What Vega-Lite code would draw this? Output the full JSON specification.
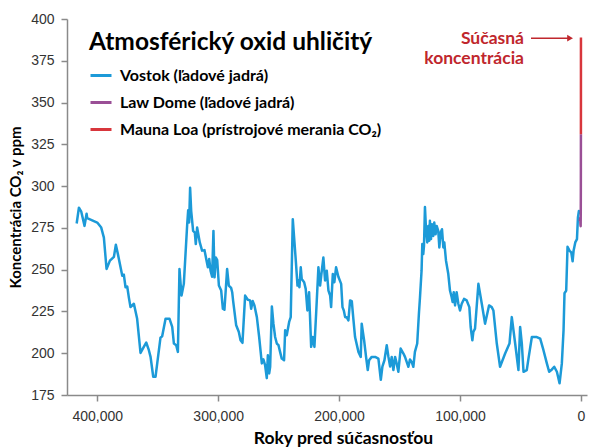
{
  "$schema": "https://vega.github.io/schema/vega-lite/v6.json",
  "width": 520,
  "height": 376,
  "autosize": {"type": "none"},
  "padding": {"left": 67, "top": 19, "right": 3, "bottom": 52},
  "background": "white",
  "config": {
    "view": {"stroke": null},
    "axis": {
      "grid": false,
      "domainColor": "#8a8a8a",
      "tickColor": "#8a8a8a",
      "domainWidth": 1.5,
      "tickWidth": 1.5,
      "labelFont": "Liberation Sans",
      "labelFontSize": 14,
      "labelColor": "#333333",
      "titleFont": "Lato",
      "titleFontWeight": "bold",
      "titleColor": "#000000"
    }
  },
  "datasets": {
    "co2": [
      {"years": 417000, "co2": 277.6, "series": "Vostok (ľadové jadrá)"},
      {"years": 415150, "co2": 287.1, "series": "Vostok (ľadové jadrá)"},
      {"years": 413200, "co2": 284.7, "series": "Vostok (ľadové jadrá)"},
      {"years": 410500, "co2": 276.2, "series": "Vostok (ľadové jadrá)"},
      {"years": 408800, "co2": 283.5, "series": "Vostok (ľadové jadrá)"},
      {"years": 408300, "co2": 280.8, "series": "Vostok (ľadové jadrá)"},
      {"years": 400000, "co2": 278.2, "series": "Vostok (ľadové jadrá)"},
      {"years": 396700, "co2": 275.2, "series": "Vostok (ľadové jadrá)"},
      {"years": 394500, "co2": 269.2, "series": "Vostok (ľadové jadrá)"},
      {"years": 392300, "co2": 250.4, "series": "Vostok (ľadové jadrá)"},
      {"years": 389500, "co2": 255.4, "series": "Vostok (ľadové jadrá)"},
      {"years": 386200, "co2": 257.7, "series": "Vostok (ľadové jadrá)"},
      {"years": 384600, "co2": 264.9, "series": "Vostok (ľadové jadrá)"},
      {"years": 382900, "co2": 259.3, "series": "Vostok (ľadové jadrá)"},
      {"years": 379300, "co2": 246.4, "series": "Vostok (ľadové jadrá)"},
      {"years": 378000, "co2": 247.0, "series": "Vostok (ľadové jadrá)"},
      {"years": 376600, "co2": 239.5, "series": "Vostok (ľadové jadrá)"},
      {"years": 375200, "co2": 239.9, "series": "Vostok (ľadové jadrá)"},
      {"years": 373800, "co2": 233.1, "series": "Vostok (ľadové jadrá)"},
      {"years": 372500, "co2": 227.6, "series": "Vostok (ľadové jadrá)"},
      {"years": 369700, "co2": 229.6, "series": "Vostok (ľadové jadrá)"},
      {"years": 367000, "co2": 220.6, "series": "Vostok (ľadové jadrá)"},
      {"years": 364200, "co2": 200.2, "series": "Vostok (ľadové jadrá)"},
      {"years": 361500, "co2": 203.8, "series": "Vostok (ľadové jadrá)"},
      {"years": 359500, "co2": 206.4, "series": "Vostok (ľadové jadrá)"},
      {"years": 357300, "co2": 201.8, "series": "Vostok (ľadové jadrá)"},
      {"years": 355900, "co2": 197.8, "series": "Vostok (ľadové jadrá)"},
      {"years": 353700, "co2": 185.9, "series": "Vostok (ľadové jadrá)"},
      {"years": 351800, "co2": 185.9, "series": "Vostok (ľadové jadrá)"},
      {"years": 347700, "co2": 209.3, "series": "Vostok (ľadové jadrá)"},
      {"years": 346300, "co2": 210.1, "series": "Vostok (ľadové jadrá)"},
      {"years": 343500, "co2": 220.6, "series": "Vostok (ľadové jadrá)"},
      {"years": 340200, "co2": 220.6, "series": "Vostok (ľadové jadrá)"},
      {"years": 338000, "co2": 215.7, "series": "Vostok (ľadové jadrá)"},
      {"years": 336600, "co2": 205.8, "series": "Vostok (ľadové jadrá)"},
      {"years": 334700, "co2": 204.8, "series": "Vostok (ľadové jadrá)"},
      {"years": 333300, "co2": 200.8, "series": "Vostok (ľadové jadrá)"},
      {"years": 332000, "co2": 250.4, "series": "Vostok (ľadové jadrá)"},
      {"years": 330300, "co2": 234.5, "series": "Vostok (ľadové jadrá)"},
      {"years": 328400, "co2": 241.5, "series": "Vostok (ľadové jadrá)"},
      {"years": 325600, "co2": 277.2, "series": "Vostok (ľadové jadrá)"},
      {"years": 324800, "co2": 285.5, "series": "Vostok (ľadové jadrá)"},
      {"years": 324000, "co2": 278.2, "series": "Vostok (ľadové jadrá)"},
      {"years": 323200, "co2": 299.0, "series": "Vostok (ľadové jadrá)"},
      {"years": 322300, "co2": 285.1, "series": "Vostok (ľadové jadrá)"},
      {"years": 320700, "co2": 273.2, "series": "Vostok (ľadové jadrá)"},
      {"years": 319300, "co2": 272.2, "series": "Vostok (ľadové jadrá)"},
      {"years": 318500, "co2": 265.3, "series": "Vostok (ľadové jadrá)"},
      {"years": 317400, "co2": 275.2, "series": "Vostok (ľadové jadrá)"},
      {"years": 315200, "co2": 266.3, "series": "Vostok (ľadové jadrá)"},
      {"years": 313300, "co2": 261.4, "series": "Vostok (ľadové jadrá)"},
      {"years": 311300, "co2": 261.7, "series": "Vostok (ľadové jadrá)"},
      {"years": 309600, "co2": 255.4, "series": "Vostok (ľadové jadrá)"},
      {"years": 308500, "co2": 251.4, "series": "Vostok (ľadové jadrá)"},
      {"years": 307400, "co2": 256.4, "series": "Vostok (ľadové jadrá)"},
      {"years": 306300, "co2": 249.4, "series": "Vostok (ľadové jadrá)"},
      {"years": 305000, "co2": 245.8, "series": "Vostok (ľadové jadrá)"},
      {"years": 303900, "co2": 273.2, "series": "Vostok (ľadové jadrá)"},
      {"years": 303000, "co2": 245.4, "series": "Vostok (ľadové jadrá)"},
      {"years": 301900, "co2": 257.3, "series": "Vostok (ľadové jadrá)"},
      {"years": 300800, "co2": 255.8, "series": "Vostok (ľadové jadrá)"},
      {"years": 299400, "co2": 240.5, "series": "Vostok (ľadové jadrá)"},
      {"years": 297500, "co2": 237.5, "series": "Vostok (ľadové jadrá)"},
      {"years": 296100, "co2": 226.6, "series": "Vostok (ľadové jadrá)"},
      {"years": 294800, "co2": 226.0, "series": "Vostok (ľadové jadrá)"},
      {"years": 292600, "co2": 250.4, "series": "Vostok (ľadové jadrá)"},
      {"years": 291200, "co2": 240.5, "series": "Vostok (ľadové jadrá)"},
      {"years": 289300, "co2": 239.1, "series": "Vostok (ľadové jadrá)"},
      {"years": 288400, "co2": 236.5, "series": "Vostok (ľadové jadrá)"},
      {"years": 287600, "co2": 231.2, "series": "Vostok (ľadové jadrá)"},
      {"years": 285100, "co2": 216.7, "series": "Vostok (ľadové jadrá)"},
      {"years": 282900, "co2": 212.7, "series": "Vostok (ľadové jadrá)"},
      {"years": 281500, "co2": 207.7, "series": "Vostok (ľadové jadrá)"},
      {"years": 279900, "co2": 206.2, "series": "Vostok (ľadové jadrá)"},
      {"years": 277700, "co2": 234.5, "series": "Vostok (ľadové jadrá)"},
      {"years": 275500, "co2": 232.0, "series": "Vostok (ľadové jadrá)"},
      {"years": 273600, "co2": 231.6, "series": "Vostok (ľadové jadrá)"},
      {"years": 272700, "co2": 226.6, "series": "Vostok (ľadové jadrá)"},
      {"years": 271400, "co2": 231.2, "series": "Vostok (ľadové jadrá)"},
      {"years": 270000, "co2": 228.6, "series": "Vostok (ľadové jadrá)"},
      {"years": 268000, "co2": 221.6, "series": "Vostok (ľadové jadrá)"},
      {"years": 266100, "co2": 209.7, "series": "Vostok (ľadové jadrá)"},
      {"years": 263900, "co2": 193.9, "series": "Vostok (ľadové jadrá)"},
      {"years": 262600, "co2": 196.3, "series": "Vostok (ľadové jadrá)"},
      {"years": 261200, "co2": 192.9, "series": "Vostok (ľadové jadrá)"},
      {"years": 259800, "co2": 185.1, "series": "Vostok (ľadové jadrá)"},
      {"years": 258900, "co2": 198.8, "series": "Vostok (ľadové jadrá)"},
      {"years": 257800, "co2": 187.9, "series": "Vostok (ľadové jadrá)"},
      {"years": 257000, "co2": 191.9, "series": "Vostok (ľadové jadrá)"},
      {"years": 255600, "co2": 228.0, "series": "Vostok (ľadové jadrá)"},
      {"years": 254300, "co2": 217.7, "series": "Vostok (ľadové jadrá)"},
      {"years": 252900, "co2": 209.7, "series": "Vostok (ľadové jadrá)"},
      {"years": 251500, "co2": 205.8, "series": "Vostok (ľadové jadrá)"},
      {"years": 250100, "co2": 204.8, "series": "Vostok (ľadové jadrá)"},
      {"years": 248800, "co2": 200.8, "series": "Vostok (ľadové jadrá)"},
      {"years": 247400, "co2": 196.8, "series": "Vostok (ľadové jadrá)"},
      {"years": 245500, "co2": 195.8, "series": "Vostok (ľadové jadrá)"},
      {"years": 244600, "co2": 213.7, "series": "Vostok (ľadové jadrá)"},
      {"years": 243300, "co2": 210.7, "series": "Vostok (ľadové jadrá)"},
      {"years": 241300, "co2": 218.7, "series": "Vostok (ľadové jadrá)"},
      {"years": 240000, "co2": 221.6, "series": "Vostok (ľadové jadrá)"},
      {"years": 238300, "co2": 280.2, "series": "Vostok (ľadové jadrá)"},
      {"years": 236900, "co2": 266.3, "series": "Vostok (ľadové jadrá)"},
      {"years": 235800, "co2": 255.4, "series": "Vostok (ľadové jadrá)"},
      {"years": 234400, "co2": 240.5, "series": "Vostok (ľadové jadrá)"},
      {"years": 233600, "co2": 243.5, "series": "Vostok (ľadové jadrá)"},
      {"years": 232800, "co2": 239.5, "series": "Vostok (ľadové jadrá)"},
      {"years": 231700, "co2": 251.4, "series": "Vostok (ľadové jadrá)"},
      {"years": 230900, "co2": 244.4, "series": "Vostok (ľadové jadrá)"},
      {"years": 228900, "co2": 242.5, "series": "Vostok (ľadové jadrá)"},
      {"years": 227600, "co2": 238.5, "series": "Vostok (ľadové jadrá)"},
      {"years": 226200, "co2": 225.6, "series": "Vostok (ľadové jadrá)"},
      {"years": 224800, "co2": 236.5, "series": "Vostok (ľadové jadrá)"},
      {"years": 223100, "co2": 203.8, "series": "Vostok (ľadové jadrá)"},
      {"years": 221800, "co2": 209.7, "series": "Vostok (ľadové jadrá)"},
      {"years": 220400, "co2": 203.8, "series": "Vostok (ľadové jadrá)"},
      {"years": 219000, "co2": 223.6, "series": "Vostok (ľadové jadrá)"},
      {"years": 217100, "co2": 251.4, "series": "Vostok (ľadové jadrá)"},
      {"years": 215700, "co2": 240.5, "series": "Vostok (ľadové jadrá)"},
      {"years": 214300, "co2": 249.4, "series": "Vostok (ľadové jadrá)"},
      {"years": 213000, "co2": 257.3, "series": "Vostok (ľadové jadrá)"},
      {"years": 211600, "co2": 243.5, "series": "Vostok (ľadové jadrá)"},
      {"years": 210200, "co2": 249.4, "series": "Vostok (ľadové jadrá)"},
      {"years": 208800, "co2": 237.5, "series": "Vostok (ľadové jadrá)"},
      {"years": 207400, "co2": 234.5, "series": "Vostok (ľadové jadrá)"},
      {"years": 206600, "co2": 227.6, "series": "Vostok (ľadové jadrá)"},
      {"years": 205200, "co2": 247.4, "series": "Vostok (ľadové jadrá)"},
      {"years": 203900, "co2": 242.5, "series": "Vostok (ľadové jadrá)"},
      {"years": 202500, "co2": 251.4, "series": "Vostok (ľadové jadrá)"},
      {"years": 200600, "co2": 245.8, "series": "Vostok (ľadové jadrá)"},
      {"years": 198300, "co2": 241.5, "series": "Vostok (ľadové jadrá)"},
      {"years": 197200, "co2": 227.6, "series": "Vostok (ľadové jadrá)"},
      {"years": 196100, "co2": 225.6, "series": "Vostok (ľadové jadrá)"},
      {"years": 195000, "co2": 221.6, "series": "Vostok (ľadové jadrá)"},
      {"years": 193700, "co2": 221.6, "series": "Vostok (ľadové jadrá)"},
      {"years": 192300, "co2": 219.6, "series": "Vostok (ľadové jadrá)"},
      {"years": 190900, "co2": 231.6, "series": "Vostok (ľadové jadrá)"},
      {"years": 189500, "co2": 231.2, "series": "Vostok (ľadové jadrá)"},
      {"years": 188200, "co2": 220.6, "series": "Vostok (ľadové jadrá)"},
      {"years": 186800, "co2": 209.7, "series": "Vostok (ľadové jadrá)"},
      {"years": 184000, "co2": 200.8, "series": "Vostok (ľadové jadrá)"},
      {"years": 182100, "co2": 197.8, "series": "Vostok (ľadové jadrá)"},
      {"years": 181300, "co2": 217.7, "series": "Vostok (ľadové jadrá)"},
      {"years": 179300, "co2": 207.7, "series": "Vostok (ľadové jadrá)"},
      {"years": 177700, "co2": 197.8, "series": "Vostok (ľadové jadrá)"},
      {"years": 176300, "co2": 189.9, "series": "Vostok (ľadové jadrá)"},
      {"years": 175200, "co2": 195.8, "series": "Vostok (ľadové jadrá)"},
      {"years": 173000, "co2": 197.8, "series": "Vostok (ľadové jadrá)"},
      {"years": 170200, "co2": 197.8, "series": "Vostok (ľadové jadrá)"},
      {"years": 167500, "co2": 196.8, "series": "Vostok (ľadové jadrá)"},
      {"years": 165500, "co2": 184.1, "series": "Vostok (ľadové jadrá)"},
      {"years": 164200, "co2": 192.0, "series": "Vostok (ľadové jadrá)"},
      {"years": 162500, "co2": 195.8, "series": "Vostok (ľadové jadrá)"},
      {"years": 160600, "co2": 204.8, "series": "Vostok (ľadové jadrá)"},
      {"years": 159200, "co2": 197.8, "series": "Vostok (ľadové jadrá)"},
      {"years": 157800, "co2": 192.0, "series": "Vostok (ľadové jadrá)"},
      {"years": 156500, "co2": 197.8, "series": "Vostok (ľadové jadrá)"},
      {"years": 155100, "co2": 189.9, "series": "Vostok (ľadové jadrá)"},
      {"years": 153700, "co2": 197.8, "series": "Vostok (ľadové jadrá)"},
      {"years": 152400, "co2": 193.9, "series": "Vostok (ľadové jadrá)"},
      {"years": 151000, "co2": 188.9, "series": "Vostok (ľadové jadrá)"},
      {"years": 149100, "co2": 202.8, "series": "Vostok (ľadové jadrá)"},
      {"years": 146800, "co2": 199.8, "series": "Vostok (ľadové jadrá)"},
      {"years": 145500, "co2": 197.8, "series": "Vostok (ľadové jadrá)"},
      {"years": 144100, "co2": 194.8, "series": "Vostok (ľadové jadrá)"},
      {"years": 142700, "co2": 191.9, "series": "Vostok (ľadové jadrá)"},
      {"years": 141400, "co2": 196.3, "series": "Vostok (ľadové jadrá)"},
      {"years": 140000, "co2": 194.8, "series": "Vostok (ľadové jadrá)"},
      {"years": 138600, "co2": 191.9, "series": "Vostok (ľadové jadrá)"},
      {"years": 137300, "co2": 200.8, "series": "Vostok (ľadové jadrá)"},
      {"years": 135400, "co2": 205.8, "series": "Vostok (ľadové jadrá)"},
      {"years": 134000, "co2": 223.6, "series": "Vostok (ľadové jadrá)"},
      {"years": 133100, "co2": 233.5, "series": "Vostok (ľadové jadrá)"},
      {"years": 131800, "co2": 249.4, "series": "Vostok (ľadové jadrá)"},
      {"years": 131200, "co2": 265.3, "series": "Vostok (ľadové jadrá)"},
      {"years": 130400, "co2": 259.3, "series": "Vostok (ľadové jadrá)"},
      {"years": 129800, "co2": 264.3, "series": "Vostok (ľadové jadrá)"},
      {"years": 129000, "co2": 287.5, "series": "Vostok (ľadové jadrá)"},
      {"years": 128200, "co2": 275.2, "series": "Vostok (ľadové jadrá)"},
      {"years": 127100, "co2": 266.3, "series": "Vostok (ľadové jadrá)"},
      {"years": 126200, "co2": 276.2, "series": "Vostok (ľadové jadrá)"},
      {"years": 125400, "co2": 267.3, "series": "Vostok (ľadové jadrá)"},
      {"years": 124900, "co2": 279.2, "series": "Vostok (ľadové jadrá)"},
      {"years": 124000, "co2": 268.3, "series": "Vostok (ľadové jadrá)"},
      {"years": 123200, "co2": 277.2, "series": "Vostok (ľadové jadrá)"},
      {"years": 122100, "co2": 270.2, "series": "Vostok (ľadové jadrá)"},
      {"years": 121300, "co2": 278.2, "series": "Vostok (ľadové jadrá)"},
      {"years": 120200, "co2": 271.2, "series": "Vostok (ľadové jadrá)"},
      {"years": 119300, "co2": 276.2, "series": "Vostok (ľadové jadrá)"},
      {"years": 118000, "co2": 273.2, "series": "Vostok (ľadové jadrá)"},
      {"years": 117100, "co2": 263.3, "series": "Vostok (ľadové jadrá)"},
      {"years": 116000, "co2": 272.2, "series": "Vostok (ľadové jadrá)"},
      {"years": 114900, "co2": 274.2, "series": "Vostok (ľadové jadrá)"},
      {"years": 113800, "co2": 263.3, "series": "Vostok (ľadové jadrá)"},
      {"years": 113000, "co2": 266.3, "series": "Vostok (ľadové jadrá)"},
      {"years": 111600, "co2": 255.4, "series": "Vostok (ľadové jadrá)"},
      {"years": 109700, "co2": 247.4, "series": "Vostok (ľadové jadrá)"},
      {"years": 108300, "co2": 237.5, "series": "Vostok (ľadové jadrá)"},
      {"years": 106900, "co2": 233.5, "series": "Vostok (ľadové jadrá)"},
      {"years": 106100, "co2": 230.6, "series": "Vostok (ľadové jadrá)"},
      {"years": 105200, "co2": 236.5, "series": "Vostok (ľadové jadrá)"},
      {"years": 104100, "co2": 228.6, "series": "Vostok (ľadové jadrá)"},
      {"years": 102800, "co2": 236.5, "series": "Vostok (ľadové jadrá)"},
      {"years": 101400, "co2": 229.6, "series": "Vostok (ľadové jadrá)"},
      {"years": 100000, "co2": 225.6, "series": "Vostok (ľadové jadrá)"},
      {"years": 98600, "co2": 229.6, "series": "Vostok (ľadové jadrá)"},
      {"years": 96700, "co2": 232.5, "series": "Vostok (ľadové jadrá)"},
      {"years": 94500, "co2": 231.6, "series": "Vostok (ľadové jadrá)"},
      {"years": 92300, "co2": 227.6, "series": "Vostok (ľadové jadrá)"},
      {"years": 91200, "co2": 215.7, "series": "Vostok (ľadové jadrá)"},
      {"years": 89800, "co2": 207.7, "series": "Vostok (ľadové jadrá)"},
      {"years": 89000, "co2": 212.7, "series": "Vostok (ľadové jadrá)"},
      {"years": 87600, "co2": 214.7, "series": "Vostok (ľadové jadrá)"},
      {"years": 84800, "co2": 241.5, "series": "Vostok (ľadové jadrá)"},
      {"years": 82000, "co2": 229.6, "series": "Vostok (ľadové jadrá)"},
      {"years": 79300, "co2": 217.7, "series": "Vostok (ľadové jadrá)"},
      {"years": 76000, "co2": 228.6, "series": "Vostok (ľadové jadrá)"},
      {"years": 73800, "co2": 227.6, "series": "Vostok (ľadové jadrá)"},
      {"years": 72400, "co2": 225.6, "series": "Vostok (ľadové jadrá)"},
      {"years": 69600, "co2": 205.8, "series": "Vostok (ľadové jadrá)"},
      {"years": 66900, "co2": 191.9, "series": "Vostok (ľadové jadrá)"},
      {"years": 62700, "co2": 199.8, "series": "Vostok (ľadové jadrá)"},
      {"years": 59100, "co2": 205.8, "series": "Vostok (ľadové jadrá)"},
      {"years": 57200, "co2": 221.6, "series": "Vostok (ľadové jadrá)"},
      {"years": 54400, "co2": 205.8, "series": "Vostok (ľadové jadrá)"},
      {"years": 51700, "co2": 189.9, "series": "Vostok (ľadové jadrá)"},
      {"years": 50300, "co2": 215.7, "series": "Vostok (ľadové jadrá)"},
      {"years": 48900, "co2": 205.8, "series": "Vostok (ľadové jadrá)"},
      {"years": 47500, "co2": 188.9, "series": "Vostok (ľadové jadrá)"},
      {"years": 44800, "co2": 189.9, "series": "Vostok (ľadové jadrá)"},
      {"years": 43400, "co2": 196.8, "series": "Vostok (ľadové jadrá)"},
      {"years": 40600, "co2": 209.7, "series": "Vostok (ľadové jadrá)"},
      {"years": 36500, "co2": 209.7, "series": "Vostok (ľadové jadrá)"},
      {"years": 33700, "co2": 208.7, "series": "Vostok (ľadové jadrá)"},
      {"years": 31000, "co2": 201.8, "series": "Vostok (ľadové jadrá)"},
      {"years": 28200, "co2": 193.9, "series": "Vostok (ľadové jadrá)"},
      {"years": 26300, "co2": 188.9, "series": "Vostok (ľadové jadrá)"},
      {"years": 24000, "co2": 190.3, "series": "Vostok (ľadové jadrá)"},
      {"years": 22100, "co2": 191.9, "series": "Vostok (ľadové jadrá)"},
      {"years": 19900, "co2": 188.9, "series": "Vostok (ľadové jadrá)"},
      {"years": 17700, "co2": 182.0, "series": "Vostok (ľadové jadrá)"},
      {"years": 15800, "co2": 193.9, "series": "Vostok (ľadové jadrá)"},
      {"years": 14400, "co2": 213.7, "series": "Vostok (ľadové jadrá)"},
      {"years": 13600, "co2": 235.9, "series": "Vostok (ľadové jadrá)"},
      {"years": 12200, "co2": 237.5, "series": "Vostok (ľadové jadrá)"},
      {"years": 11100, "co2": 263.7, "series": "Vostok (ľadové jadrá)"},
      {"years": 9400, "co2": 261.3, "series": "Vostok (ľadové jadrá)"},
      {"years": 8000, "co2": 260.3, "series": "Vostok (ľadové jadrá)"},
      {"years": 6900, "co2": 255.0, "series": "Vostok (ľadové jadrá)"},
      {"years": 6100, "co2": 261.3, "series": "Vostok (ľadové jadrá)"},
      {"years": 4700, "co2": 266.3, "series": "Vostok (ľadové jadrá)"},
      {"years": 3300, "co2": 268.3, "series": "Vostok (ľadové jadrá)"},
      {"years": 2500, "co2": 281.2, "series": "Vostok (ľadové jadrá)"},
      {"years": 1700, "co2": 285.1, "series": "Vostok (ľadové jadrá)"},
      {"years": 1100, "co2": 283.1, "series": "Vostok (ľadové jadrá)"},
      {"years": 1000, "co2": 279.0, "series": "Law Dome (ľadové jadrá)"},
      {"years": 800, "co2": 280.0, "series": "Law Dome (ľadové jadrá)"},
      {"years": 600, "co2": 281.0, "series": "Law Dome (ľadové jadrá)"},
      {"years": 400, "co2": 277.0, "series": "Law Dome (ľadové jadrá)"},
      {"years": 250, "co2": 276.0, "series": "Law Dome (ľadové jadrá)"},
      {"years": 150, "co2": 285.0, "series": "Law Dome (ľadové jadrá)"},
      {"years": 100, "co2": 296.0, "series": "Law Dome (ľadové jadrá)"},
      {"years": 60, "co2": 311.0, "series": "Law Dome (ľadové jadrá)"},
      {"years": 32, "co2": 331.0, "series": "Law Dome (ľadové jadrá)"},
      {"years": 32, "co2": 331.0, "series": "Mauna Loa (prístrojové merania CO₂)"},
      {"years": 25, "co2": 340.0, "series": "Mauna Loa (prístrojové merania CO₂)"},
      {"years": 15, "co2": 355.0, "series": "Mauna Loa (prístrojové merania CO₂)"},
      {"years": 8, "co2": 370.0, "series": "Mauna Loa (prístrojové merania CO₂)"},
      {"years": 0, "co2": 389.0, "series": "Mauna Loa (prístrojové merania CO₂)"}
    ],
    "arrow": [{"from": 41300, "to": 9000, "co2": 388.5, "label": "Súčasná\nkoncentrácia", "labelX": 47100}]
  },
  "layer": [
    {
      "data": {"name": "co2"},
      "mark": {"type": "line", "strokeWidth": 2.5, "strokeJoin": "round"},
      "encoding": {
        "x": {
          "field": "years",
          "type": "quantitative",
          "scale": {"domain": [425000, -5000], "nice": false, "zero": false},
          "axis": {
            "values": [400000, 300000, 200000, 100000, 0],
            "format": ",d",
            "tickSize": 6,
            "labelPadding": 8,
            "title": "Roky pred súčasnosťou",
            "titleFontSize": 17.5,
            "titleX": 276,
            "titleY": 48,
            "titleBaseline": "alphabetic"
          }
        },
        "y": {
          "field": "co2",
          "type": "quantitative",
          "scale": {"domain": [175, 400], "nice": false, "zero": false},
          "axis": {
            "values": [175, 200, 225, 250, 275, 300, 325, 350, 375, 400],
            "tickSize": 6,
            "labelPadding": 7,
            "title": "Koncentrácia CO₂ v ppm",
            "titleFontSize": 15,
            "titleX": -52,
            "titleBaseline": "middle"
          }
        },
        "color": {
          "field": "series",
          "type": "nominal",
          "sort": ["Vostok (ľadové jadrá)", "Law Dome (ľadové jadrá)", "Mauna Loa (prístrojové merania CO₂)"],
          "scale": {
            "domain": ["Vostok (ľadové jadrá)", "Law Dome (ľadové jadrá)", "Mauna Loa (prístrojové merania CO₂)"],
            "range": ["#1c9ad8", "#9a4f96", "#d8363c"]
          },
          "legend": {
            "title": "Atmosférický oxid uhličitý",
            "orient": "none",
            "legendX": 22,
            "legendY": 12,
            "titleFont": "Lato",
            "titleFontSize": 24.5,
            "titleFontWeight": "bold",
            "titleColor": "#000000",
            "titleLimit": 600,
            "titlePadding": 8,
            "labelFont": "Lato",
            "labelFontSize": 16,
            "labelFontWeight": "bold",
            "labelColor": "#000000",
            "labelOffset": 7,
            "labelLimit": 500,
            "symbolType": "stroke",
            "symbolSize": 441,
            "symbolStrokeWidth": 3,
            "rowPadding": 7
          }
        }
      }
    },
    {
      "mark": {"type": "rule", "color": "#8a8a8a", "strokeWidth": 1.5},
      "encoding": {"y": {"datum": 400}}
    },
    {
      "data": {"name": "arrow"},
      "mark": {"type": "rule", "color": "#c0272d", "strokeWidth": 1.5},
      "encoding": {
        "x": {"field": "from", "type": "quantitative"},
        "x2": {"field": "to"},
        "y": {"field": "co2", "type": "quantitative"}
      }
    },
    {
      "data": {"name": "arrow"},
      "mark": {"type": "point", "shape": "triangle-right", "filled": true, "color": "#c0272d", "size": 45, "opacity": 1},
      "encoding": {
        "x": {"field": "to", "type": "quantitative"},
        "y": {"field": "co2", "type": "quantitative"}
      }
    },
    {
      "data": {"name": "arrow"},
      "mark": {"type": "text", "align": "right", "baseline": "middle", "font": "Lato", "fontWeight": "bold", "fontSize": 17.5, "color": "#c0272d", "lineBreak": "\n", "lineHeight": 20, "dy": 1},
      "encoding": {
        "x": {"field": "labelX", "type": "quantitative"},
        "y": {"field": "co2", "type": "quantitative"},
        "text": {"field": "label"}
      }
    }
  ]
}
